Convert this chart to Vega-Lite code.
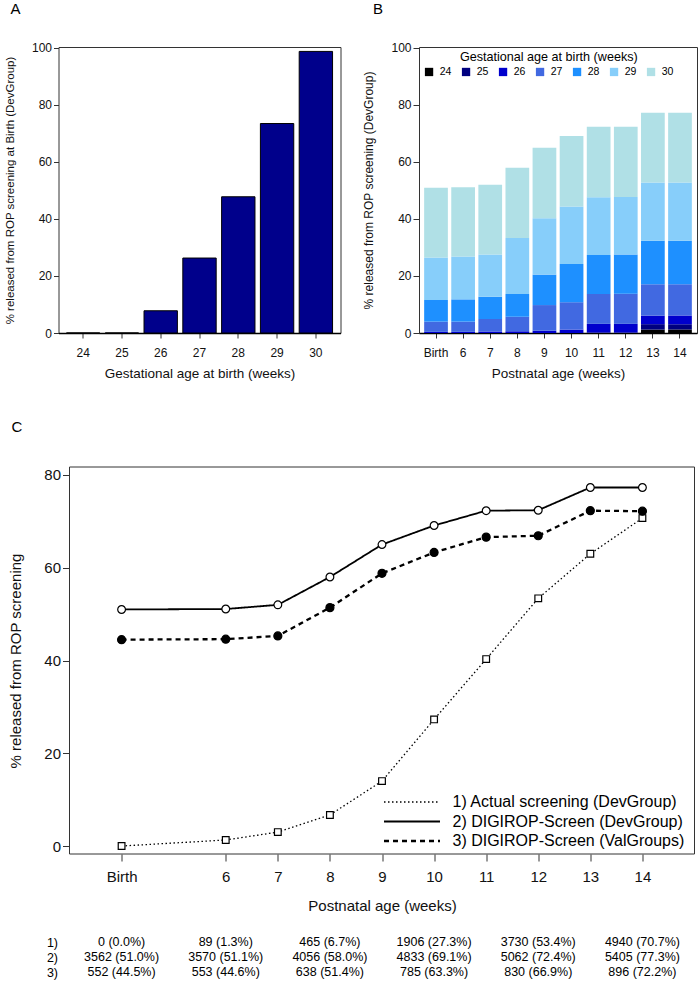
{
  "$schema": "https://vega.github.io/schema/vega-lite/v6.json",
  "autosize": {"type": "pad"},
  "padding": {"left": 3.5, "top": 1, "right": 0, "bottom": 0},
  "background": "white",
  "config": {
    "font": "Liberation Sans",
    "view": {"stroke": "#333", "strokeWidth": 1},
    "axis": {"grid": false, "labelColor": "#111", "titleColor": "#111", "tickColor": "#333", "titleFontWeight": "normal", "labelFont": "Liberation Sans", "titleFont": "Liberation Sans"},
    "legend": {"labelFont": "Liberation Sans", "titleFont": "Liberation Sans"}
  },
  "datasets": {
    "a": [
      {"ga": "24", "pct": 0}, {"ga": "25", "pct": 0}, {"ga": "26", "pct": 7.8}, {"ga": "27", "pct": 26.3},
      {"ga": "28", "pct": 47.8}, {"ga": "29", "pct": 73.5}, {"ga": "30", "pct": 98.8}
    ],
    "b": [
      {"week": "Birth", "ga": "24", "pct": 0}, {"week": "Birth", "ga": "25", "pct": 0}, {"week": "Birth", "ga": "26", "pct": 0.4}, {"week": "Birth", "ga": "27", "pct": 3.6}, {"week": "Birth", "ga": "28", "pct": 7.6}, {"week": "Birth", "ga": "29", "pct": 14.9}, {"week": "Birth", "ga": "30", "pct": 24.5},
      {"week": "6", "ga": "24", "pct": 0}, {"week": "6", "ga": "25", "pct": 0}, {"week": "6", "ga": "26", "pct": 0.4}, {"week": "6", "ga": "27", "pct": 3.6}, {"week": "6", "ga": "28", "pct": 7.8}, {"week": "6", "ga": "29", "pct": 15.0}, {"week": "6", "ga": "30", "pct": 24.3},
      {"week": "7", "ga": "24", "pct": 0}, {"week": "7", "ga": "25", "pct": 0}, {"week": "7", "ga": "26", "pct": 0.5}, {"week": "7", "ga": "27", "pct": 4.4}, {"week": "7", "ga": "28", "pct": 7.8}, {"week": "7", "ga": "29", "pct": 14.8}, {"week": "7", "ga": "30", "pct": 24.5},
      {"week": "8", "ga": "24", "pct": 0}, {"week": "8", "ga": "25", "pct": 0}, {"week": "8", "ga": "26", "pct": 0.6}, {"week": "8", "ga": "27", "pct": 5.1}, {"week": "8", "ga": "28", "pct": 8.0}, {"week": "8", "ga": "29", "pct": 19.6}, {"week": "8", "ga": "30", "pct": 24.7},
      {"week": "9", "ga": "24", "pct": 0}, {"week": "9", "ga": "25", "pct": 0}, {"week": "9", "ga": "26", "pct": 0.8}, {"week": "9", "ga": "27", "pct": 9.0}, {"week": "9", "ga": "28", "pct": 10.7}, {"week": "9", "ga": "29", "pct": 19.8}, {"week": "9", "ga": "30", "pct": 24.7},
      {"week": "10", "ga": "24", "pct": 0}, {"week": "10", "ga": "25", "pct": 0}, {"week": "10", "ga": "26", "pct": 1.2}, {"week": "10", "ga": "27", "pct": 9.6}, {"week": "10", "ga": "28", "pct": 13.4}, {"week": "10", "ga": "29", "pct": 20.2}, {"week": "10", "ga": "30", "pct": 24.7},
      {"week": "11", "ga": "24", "pct": 0}, {"week": "11", "ga": "25", "pct": 0.2}, {"week": "11", "ga": "26", "pct": 3.0}, {"week": "11", "ga": "27", "pct": 10.5}, {"week": "11", "ga": "28", "pct": 13.7}, {"week": "11", "ga": "29", "pct": 20.2}, {"week": "11", "ga": "30", "pct": 24.8},
      {"week": "12", "ga": "24", "pct": 0}, {"week": "12", "ga": "25", "pct": 0.2}, {"week": "12", "ga": "26", "pct": 3.0}, {"week": "12", "ga": "27", "pct": 10.6}, {"week": "12", "ga": "28", "pct": 13.7}, {"week": "12", "ga": "29", "pct": 20.2}, {"week": "12", "ga": "30", "pct": 24.7},
      {"week": "13", "ga": "24", "pct": 1.2}, {"week": "13", "ga": "25", "pct": 1.9}, {"week": "13", "ga": "26", "pct": 3.0}, {"week": "13", "ga": "27", "pct": 11.0}, {"week": "13", "ga": "28", "pct": 15.3}, {"week": "13", "ga": "29", "pct": 20.4}, {"week": "13", "ga": "30", "pct": 24.5},
      {"week": "14", "ga": "24", "pct": 1.2}, {"week": "14", "ga": "25", "pct": 1.9}, {"week": "14", "ga": "26", "pct": 3.0}, {"week": "14", "ga": "27", "pct": 11.0}, {"week": "14", "ga": "28", "pct": 15.3}, {"week": "14", "ga": "29", "pct": 20.4}, {"week": "14", "ga": "30", "pct": 24.5}
    ],
    "c": [
      {"week": 4, "series": "1) Actual screening (DevGroup)", "pct": 0.0},
      {"week": 6, "series": "1) Actual screening (DevGroup)", "pct": 1.3},
      {"week": 7, "series": "1) Actual screening (DevGroup)", "pct": 3.0},
      {"week": 8, "series": "1) Actual screening (DevGroup)", "pct": 6.7},
      {"week": 9, "series": "1) Actual screening (DevGroup)", "pct": 14.0},
      {"week": 10, "series": "1) Actual screening (DevGroup)", "pct": 27.3},
      {"week": 11, "series": "1) Actual screening (DevGroup)", "pct": 40.3},
      {"week": 12, "series": "1) Actual screening (DevGroup)", "pct": 53.4},
      {"week": 13, "series": "1) Actual screening (DevGroup)", "pct": 63.0},
      {"week": 14, "series": "1) Actual screening (DevGroup)", "pct": 70.7},
      {"week": 4, "series": "2) DIGIROP-Screen (DevGroup)", "pct": 51.0},
      {"week": 6, "series": "2) DIGIROP-Screen (DevGroup)", "pct": 51.1},
      {"week": 7, "series": "2) DIGIROP-Screen (DevGroup)", "pct": 52.0},
      {"week": 8, "series": "2) DIGIROP-Screen (DevGroup)", "pct": 58.0},
      {"week": 9, "series": "2) DIGIROP-Screen (DevGroup)", "pct": 65.0},
      {"week": 10, "series": "2) DIGIROP-Screen (DevGroup)", "pct": 69.1},
      {"week": 11, "series": "2) DIGIROP-Screen (DevGroup)", "pct": 72.3},
      {"week": 12, "series": "2) DIGIROP-Screen (DevGroup)", "pct": 72.4},
      {"week": 13, "series": "2) DIGIROP-Screen (DevGroup)", "pct": 77.3},
      {"week": 14, "series": "2) DIGIROP-Screen (DevGroup)", "pct": 77.3},
      {"week": 4, "series": "3) DIGIROP-Screen (ValGroups)", "pct": 44.5},
      {"week": 6, "series": "3) DIGIROP-Screen (ValGroups)", "pct": 44.6},
      {"week": 7, "series": "3) DIGIROP-Screen (ValGroups)", "pct": 45.3},
      {"week": 8, "series": "3) DIGIROP-Screen (ValGroups)", "pct": 51.4},
      {"week": 9, "series": "3) DIGIROP-Screen (ValGroups)", "pct": 58.8},
      {"week": 10, "series": "3) DIGIROP-Screen (ValGroups)", "pct": 63.3},
      {"week": 11, "series": "3) DIGIROP-Screen (ValGroups)", "pct": 66.6},
      {"week": 12, "series": "3) DIGIROP-Screen (ValGroups)", "pct": 66.9},
      {"week": 13, "series": "3) DIGIROP-Screen (ValGroups)", "pct": 72.3},
      {"week": 14, "series": "3) DIGIROP-Screen (ValGroups)", "pct": 72.2}
    ],
    "t": [
      {"week": 4, "row": "1)", "text": "0 (0.0%)"}, {"week": 6, "row": "1)", "text": "89 (1.3%)"}, {"week": 8, "row": "1)", "text": "465 (6.7%)"}, {"week": 10, "row": "1)", "text": "1906 (27.3%)"}, {"week": 12, "row": "1)", "text": "3730 (53.4%)"}, {"week": 14, "row": "1)", "text": "4940 (70.7%)"},
      {"week": 4, "row": "2)", "text": "3562 (51.0%)"}, {"week": 6, "row": "2)", "text": "3570 (51.1%)"}, {"week": 8, "row": "2)", "text": "4056 (58.0%)"}, {"week": 10, "row": "2)", "text": "4833 (69.1%)"}, {"week": 12, "row": "2)", "text": "5062 (72.4%)"}, {"week": 14, "row": "2)", "text": "5405 (77.3%)"},
      {"week": 4, "row": "3)", "text": "552 (44.5%)"}, {"week": 6, "row": "3)", "text": "553 (44.6%)"}, {"week": 8, "row": "3)", "text": "638 (51.4%)"}, {"week": 10, "row": "3)", "text": "785 (63.3%)"}, {"week": 12, "row": "3)", "text": "830 (66.9%)"}, {"week": 14, "row": "3)", "text": "896 (72.2%)"}
    ],
    "frame": [{"x0": 3, "x1": 15, "y0": -1.72, "y1": 81.72}]
  },
  "vconcat": [
    {
      "hconcat": [
        {
          "width": 282,
          "height": 286,
          "title": {"text": "A", "anchor": "start", "frame": "group", "dx": -48, "offset": 13, "baseline": "alphabetic", "fontSize": 15, "fontWeight": "normal", "font": "Liberation Sans", "color": "black"},
          "data": {"name": "a"},
          "mark": {"type": "bar", "color": "#00008B", "stroke": "black", "strokeWidth": 1},
          "encoding": {
            "x": {"field": "ga", "type": "ordinal", "scale": {"paddingInner": 0.14, "paddingOuter": 0.205},
              "axis": {"title": "Gestational age at birth (weeks)", "labelAngle": 0, "tickSize": 5, "labelPadding": 9, "labelFontSize": 12, "titleFontSize": 13.5, "titleY": 40, "titleBaseline": "middle", "domainColor": "black", "domainWidth": 1.5}},
            "y": {"field": "pct", "type": "quantitative", "scale": {"domain": [0, 100.35], "nice": false},
              "axis": {"values": [0, 20, 40, 60, 80, 100], "title": "% released from ROP screening at Birth (DevGroup)", "titleX": -48, "titleY": 143, "titleBaseline": "middle", "titleFontSize": 11.5, "labelFontSize": 12, "domain": false, "tickSize": 5, "labelPadding": 2}}
          }
        },
        {
          "width": 278,
          "height": 286,
          "title": {"text": "B", "anchor": "start", "frame": "group", "dx": -46, "offset": 13, "baseline": "alphabetic", "fontSize": 15, "fontWeight": "normal", "font": "Liberation Sans", "color": "black"},
          "data": {"name": "b"},
          "mark": {"type": "bar"},
          "encoding": {
            "x": {"field": "week", "type": "ordinal", "sort": ["Birth", "6", "7", "8", "9", "10", "11", "12", "13", "14"], "scale": {"paddingInner": 0.125, "paddingOuter": 0.19},
              "axis": {"title": "Postnatal age (weeks)", "labelAngle": 0, "tickSize": 5, "labelPadding": 9, "labelFontSize": 12, "titleFontSize": 13.5, "titleY": 40, "titleBaseline": "middle", "domainColor": "black", "domainWidth": 1.5}},
            "y": {"field": "pct", "type": "quantitative", "stack": "zero", "scale": {"domain": [0, 100.35], "nice": false},
              "axis": {"values": [0, 20, 40, 60, 80, 100], "title": "% released from ROP screening (DevGroup)", "titleX": -51, "titleY": 143, "titleBaseline": "middle", "titleFontSize": 12, "labelFontSize": 12, "domain": false, "tickSize": 6, "labelPadding": 2}},
            "color": {"field": "ga", "type": "nominal",
              "scale": {"domain": ["24", "25", "26", "27", "28", "29", "30"], "range": ["#000000", "#000080", "#0000CD", "#4169E1", "#1E90FF", "#87CEFA", "#B0E0E6"]},
              "legend": {"title": "Gestational age at birth (weeks)", "orient": "none", "legendX": 365.3, "legendY": 4, "direction": "horizontal", "columns": 7, "titleAnchor": "middle", "titleFontSize": 12.6, "titleFontWeight": "normal", "titlePadding": 3, "titleColor": "black", "labelFontSize": 10.5, "labelColor": "black", "symbolType": "square", "symbolSize": 69, "symbolStrokeWidth": 0, "symbolOpacity": 1, "labelOffset": 5.4, "columnPadding": 9, "padding": 0}},
            "order": {"field": "ga", "type": "ordinal", "sort": "ascending"}
          }
        }
      ],
      "spacing": 19.5
    },
    {
      "vconcat": [
        {
          "width": 636,
          "height": 387,
          "view": {"stroke": null},
          "title": {"text": "C", "anchor": "start", "frame": "group", "dx": -47, "offset": 20, "baseline": "alphabetic", "fontSize": 15, "fontWeight": "normal", "font": "Liberation Sans", "color": "black"},
          "layer": [
            {
              "data": {"name": "frame"},
              "mark": {"type": "rect", "fill": "white", "fillOpacity": 0, "stroke": "#333", "strokeWidth": 1},
              "encoding": {
                "x": {"field": "x0", "type": "quantitative", "scale": {"domain": [3, 15], "range": [11, 636], "nice": false, "zero": false},
                  "axis": {"values": [4, 6, 7, 8, 9, 10, 11, 12, 13, 14], "labelExpr": "datum.value === 4 ? 'Birth' : datum.label", "title": "Postnatal age (weeks)", "tickSize": 7, "labelPadding": 8, "labelFontSize": 15, "titleFontSize": 15, "titleX": 323.5, "titleY": 51, "titleBaseline": "middle", "domain": false}},
                "x2": {"field": "x1"},
                "y": {"field": "y0", "type": "quantitative", "scale": {"domain": [-1.72, 81.72], "nice": false, "zero": false},
                  "axis": {"values": [0, 20, 40, 60, 80], "offset": -11, "title": "% released from ROP screening", "titleX": -54, "titleY": 193.5, "titleBaseline": "middle", "titleFontSize": 15, "labelFontSize": 15, "tickSize": 7, "labelPadding": 2, "domain": false}},
                "y2": {"field": "y1"}
              }
            },
            {
              "data": {"name": "c"},
              "mark": {"type": "line", "color": "black"},
              "encoding": {
                "x": {"field": "week", "type": "quantitative"},
                "y": {"field": "pct", "type": "quantitative"},
                "strokeDash": {"field": "series", "type": "ordinal",
                  "scale": {"domain": ["1) Actual screening (DevGroup)", "2) DIGIROP-Screen (DevGroup)", "3) DIGIROP-Screen (ValGroups)"], "range": [[1.5, 2.5], [1, 0], [5, 4]]},
                  "legend": {"title": null, "orient": "none", "legendX": 324, "legendY": 747, "symbolType": "stroke", "symbolSize": 3136, "symbolStrokeColor": "black", "labelFontSize": 16, "labelColor": "black", "labelLimit": 0, "labelOffset": 11, "rowPadding": 3.5, "clipHeight": 16, "padding": 0}},
                "strokeWidth": {"field": "series", "type": "ordinal",
                  "scale": {"domain": ["1) Actual screening (DevGroup)", "2) DIGIROP-Screen (DevGroup)", "3) DIGIROP-Screen (ValGroups)"], "range": [1.3, 2.3, 2.5]}}
              }
            },
            {
              "data": {"name": "c"},
              "transform": [{"filter": "datum.series === '1) Actual screening (DevGroup)'"}],
              "mark": {"type": "point", "shape": "square", "filled": true, "fill": "white", "stroke": "black", "strokeWidth": 1.2, "size": 45, "opacity": 1},
              "encoding": {"x": {"field": "week", "type": "quantitative"}, "y": {"field": "pct", "type": "quantitative"}}
            },
            {
              "data": {"name": "c"},
              "transform": [{"filter": "datum.series === '2) DIGIROP-Screen (DevGroup)'"}],
              "mark": {"type": "point", "shape": "circle", "filled": true, "fill": "white", "stroke": "black", "strokeWidth": 1.2, "size": 60, "opacity": 1},
              "encoding": {"x": {"field": "week", "type": "quantitative"}, "y": {"field": "pct", "type": "quantitative"}}
            },
            {
              "data": {"name": "c"},
              "transform": [{"filter": "datum.series === '3) DIGIROP-Screen (ValGroups)'"}],
              "mark": {"type": "point", "shape": "circle", "filled": true, "fill": "black", "stroke": "black", "strokeWidth": 1.2, "size": 64, "opacity": 1},
              "encoding": {"x": {"field": "week", "type": "quantitative"}, "y": {"field": "pct", "type": "quantitative"}}
            }
          ]
        },
        {
          "width": 636,
          "height": 45,
          "view": {"stroke": null},
          "data": {"name": "t"},
          "mark": {"type": "text", "fontSize": 12.5, "color": "black", "baseline": "middle", "font": "Liberation Sans"},
          "encoding": {
            "x": {"field": "week", "type": "quantitative", "scale": {"domain": [3, 15], "range": [11, 636], "nice": false, "zero": false}, "axis": null},
            "y": {"field": "row", "type": "ordinal", "scale": {"paddingInner": 0, "paddingOuter": 0}, "axis": {"title": null, "domain": false, "ticks": false, "labelPadding": 1, "labelFontSize": 12.5, "labelColor": "black"}},
            "text": {"field": "text"}
          }
        }
      ],
      "bounds": "flush",
      "spacing": 80.5
    }
  ],
  "spacing": 39
}
